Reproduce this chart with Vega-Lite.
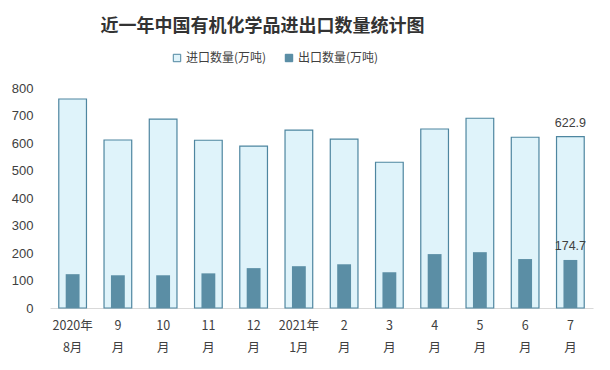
{
  "$schema": "https://vega.github.io/schema/vega-lite/v6.json",
  "width": 543,
  "height": 220,
  "autosize": "none",
  "padding": {"left": 50, "top": 88, "right": 17, "bottom": 62},
  "background": "white",
  "title": {
    "text": "近一年中国有机化学品进出口数量统计图",
    "font": "Noto Sans CJK SC",
    "fontSize": 18,
    "fontWeight": "bold",
    "color": "#333333",
    "anchor": "middle",
    "dx": -59,
    "offset": 16
  },
  "data": {
    "values": [
      {"month": "2020年|8月", "type": "进口数量(万吨)", "value": 760},
      {"month": "9|月", "type": "进口数量(万吨)", "value": 611},
      {"month": "10|月", "type": "进口数量(万吨)", "value": 687},
      {"month": "11|月", "type": "进口数量(万吨)", "value": 610},
      {"month": "12|月", "type": "进口数量(万吨)", "value": 589},
      {"month": "2021年|1月", "type": "进口数量(万吨)", "value": 647},
      {"month": "2|月", "type": "进口数量(万吨)", "value": 614},
      {"month": "3|月", "type": "进口数量(万吨)", "value": 530},
      {"month": "4|月", "type": "进口数量(万吨)", "value": 651},
      {"month": "5|月", "type": "进口数量(万吨)", "value": 690},
      {"month": "6|月", "type": "进口数量(万吨)", "value": 621},
      {"month": "7|月", "type": "进口数量(万吨)", "value": 622.9},
      {"month": "2020年|8月", "type": "出口数量(万吨)", "value": 123},
      {"month": "9|月", "type": "出口数量(万吨)", "value": 119},
      {"month": "10|月", "type": "出口数量(万吨)", "value": 119},
      {"month": "11|月", "type": "出口数量(万吨)", "value": 126},
      {"month": "12|月", "type": "出口数量(万吨)", "value": 145},
      {"month": "2021年|1月", "type": "出口数量(万吨)", "value": 152},
      {"month": "2|月", "type": "出口数量(万吨)", "value": 159},
      {"month": "3|月", "type": "出口数量(万吨)", "value": 130},
      {"month": "4|月", "type": "出口数量(万吨)", "value": 196},
      {"month": "5|月", "type": "出口数量(万吨)", "value": 203},
      {"month": "6|月", "type": "出口数量(万吨)", "value": 178},
      {"month": "7|月", "type": "出口数量(万吨)", "value": 174.7}
    ]
  },
  "encoding": {
    "x": {
      "field": "month",
      "type": "nominal",
      "sort": null,
      "axis": {
        "title": null,
        "labelAngle": 0,
        "labelExpr": "split(datum.value, '|')",
        "labelFont": "Noto Sans CJK SC",
        "labelFontSize": 12.5,
        "labelColor": "#404040",
        "labelLineHeight": 22,
        "labelPadding": 11,
        "ticks": false,
        "domainColor": "#d9d9d9",
        "domainWidth": 1
      }
    },
    "y": {
      "field": "value",
      "type": "quantitative",
      "scale": {"domain": [0, 800]},
      "axis": {
        "title": null,
        "values": [0, 100, 200, 300, 400, 500, 600, 700, 800],
        "grid": false,
        "domain": false,
        "ticks": false,
        "labelFont": "Liberation Sans",
        "labelFontSize": 13,
        "labelColor": "#404040",
        "labelPadding": 17
      }
    }
  },
  "layer": [
    {
      "transform": [{"filter": "datum.type == '进口数量(万吨)'"}],
      "mark": {"type": "bar", "width": {"band": 0.68}, "stroke": "#4e86a0", "strokeWidth": 1.2},
      "encoding": {
        "color": {
          "field": "type",
          "type": "nominal",
          "sort": null,
          "scale": {"domain": ["进口数量(万吨)", "出口数量(万吨)"], "range": ["#dff3fa", "#5b8ea5"]},
          "legend": {
            "title": null,
            "orient": "none",
            "legendX": 121,
            "legendY": -36,
            "direction": "horizontal",
            "symbolType": "square",
            "symbolSize": 55,
            "symbolStrokeColor": "#4e86a0",
            "symbolStrokeWidth": 1,
            "labelFont": "Noto Sans CJK SC",
            "labelFontSize": 12,
            "labelColor": "#404040",
            "columnPadding": 16,
            "labelOffset": 3
          }
        }
      }
    },
    {
      "transform": [{"filter": "datum.type == '出口数量(万吨)'"}],
      "mark": {"type": "bar", "width": {"band": 0.34}},
      "encoding": {
        "color": {"field": "type", "type": "nominal", "sort": null}
      }
    },
    {
      "transform": [{"filter": "datum.month == '7|月'"}],
      "mark": {"type": "text", "dy": -14, "font": "Liberation Sans", "fontSize": 12.5, "color": "#404040"},
      "encoding": {
        "text": {"field": "value", "type": "quantitative", "format": ".1f"}
      }
    }
  ],
  "config": {
    "view": {"stroke": null}
  }
}
